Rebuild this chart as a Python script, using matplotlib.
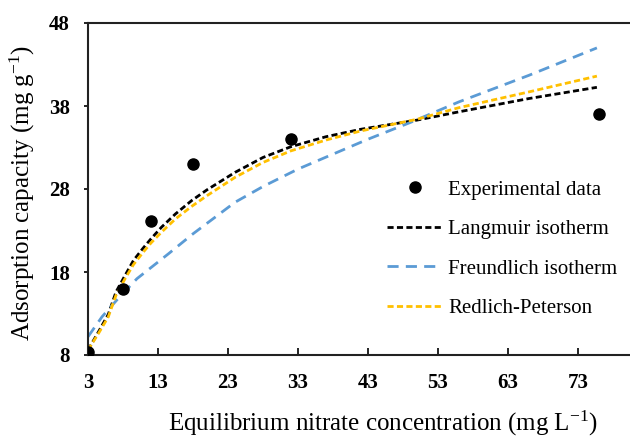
import matplotlib
matplotlib.use("Agg")
import matplotlib.pyplot as plt

plt.rcParams['font.family'] = ['Liberation Serif', 'DejaVu Serif']
plt.rcParams['mathtext.default'] = 'regular'

# Experimental data
exp_x = [3, 8, 12, 18, 32, 76]
exp_y = [8.4, 16.0, 24.1, 31.0, 34.0, 37.0]

# Fitted curves
lang_x = [3, 4.5, 5.9, 7, 8.3, 9.5, 10.9, 12, 13.5, 15.5, 17.8, 20, 24, 28, 32, 37, 42, 50, 56, 66, 75.7]
lang_y = [8.6, 10.8, 12.9, 15.6, 17.6, 19.4, 20.9, 22.0, 23.4, 25.0, 26.6, 27.9, 30.0, 31.8, 33.1, 34.3, 35.2, 36.3, 37.3, 38.9, 40.25]

freu_x = [3, 5, 7.3, 10, 14.5, 18, 24, 28, 33, 38, 43, 49, 56, 66, 75.7]
freu_y = [10.2, 12.6, 14.8, 17.2, 20.2, 22.6, 26.4, 28.3, 30.4, 32.2, 34.0, 36.0, 38.5, 41.7, 45.0]

rp_x = [3, 4.5, 5.9, 7, 8.3, 9.5, 10.9, 12, 13.5, 15.5, 17.8, 20, 24, 28, 32, 37, 42, 50, 56, 66, 75.7]
rp_y = [8.6, 10.6, 12.6, 15.2, 17.2, 18.9, 20.4, 21.5, 22.8, 24.4, 25.9, 27.2, 29.4, 31.2, 32.6, 33.9, 35.0, 36.4, 37.8, 39.7, 41.6]

xticks = [3, 13, 23, 33, 43, 53, 63, 73]
yticks = [8, 18, 28, 38, 48]

fig = plt.figure(figsize=(6.3, 4.37), dpi=100)
ax = fig.add_axes([88/630, 82/437, 1 - 88/630, (355-23)/437])

ax.plot(exp_x, exp_y, 'o', color='black', markersize=8, label='Experimental data', zorder=5)
ax.plot(lang_x, lang_y, color='black', lw=2, dashes=(2.2, 1.2), label='Langmuir isotherm')
ax.plot(freu_x, freu_y, color='#5B9BD5', lw=2, dashes=(4, 2.6), label='Freundlich isotherm')
ax.plot(rp_x, rp_y, color='#FFC000', lw=2, dashes=(2.2, 1.2), label='Redlich-Peterson')

ax.set_xlim(3, 3 + (630 - 88) / 7)
ax.set_ylim(8, 48)
ax.set_xticks(xticks)
ax.set_yticks(yticks)
ax.set_xticklabels([str(v) for v in xticks], fontweight='bold', fontsize=15)
ax.set_yticklabels([str(v) for v in yticks], fontweight='bold', fontsize=15)
ax.tick_params(axis='x', direction='in', length=5, width=1.2, pad=13)
ax.tick_params(axis='y', direction='out', length=3, width=1.2, pad=10)
for s in ['left', 'bottom', 'top']:
    ax.spines[s].set_linewidth(1.5)
    ax.spines[s].set_color('#222222')
ax.spines['right'].set_visible(False)

ax.set_xlabel('Equilibrium nitrate concentration (mg L$^{-1}$)', fontsize=18)
ax.set_ylabel('Adsorption capacity (mg g$^{-1}$)', fontsize=18)
ax.xaxis.set_label_coords((382.5 - 88) / 542, -(409 - 355) / 332)
ax.yaxis.set_label_coords(-(88 - 37) / 542, 0.489)

leg = ax.legend(loc='upper left', bbox_to_anchor=(387/630, 1 - 180/437),
                bbox_transform=fig.transFigure, frameon=False, fontsize=15,
                handlelength=2.65, handletextpad=0.3, labelspacing=0.96, borderpad=0,
                borderaxespad=0)

fig.savefig('out.png', dpi=100)
